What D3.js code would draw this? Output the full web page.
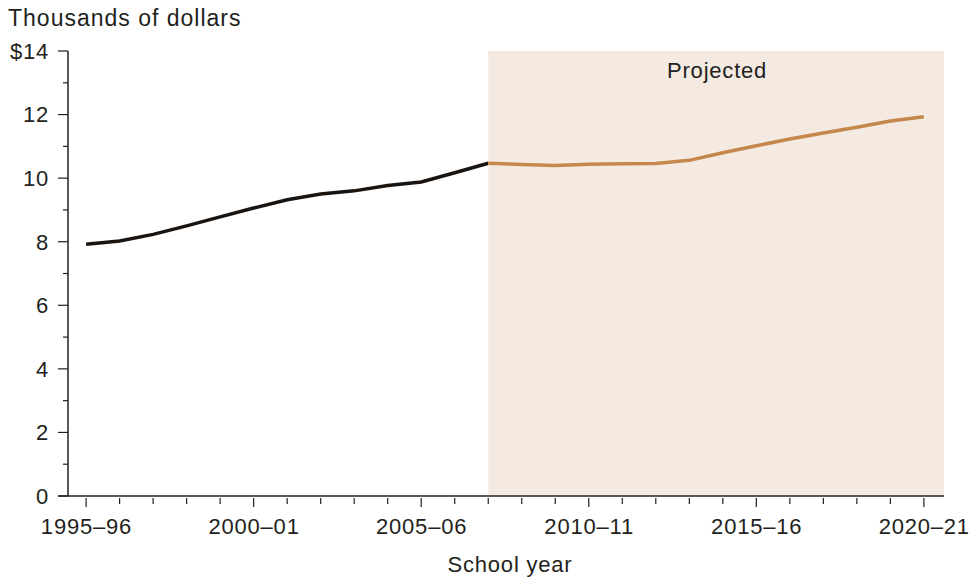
<!DOCTYPE html>
<html><head><meta charset="utf-8">
<script src="https://cdn.jsdelivr.net/npm/d3@7"></script>
<style>body{margin:0;background:#fff}svg{display:block}text{font-family:"Liberation Sans",Arial,Helvetica,sans-serif;fill:#231f20;font-size:22px;letter-spacing:0.8px}</style>
</head><body><svg id="c" width="971" height="579"></svg>
<script>
const years = ["1995–96","1996–97","1997–98","1998–99","1999–2000","2000–01","2001–02","2002–03","2003–04","2004–05","2005–06","2006–07","2007–08","2008–09","2009–10","2010–11","2011–12","2012–13","2013–14","2014–15","2015–16","2016–17","2017–18","2018–19","2019–20","2020–21"];
const actual = [7.92,8.02,8.23,8.5,8.78,9.06,9.32,9.5,9.6,9.77,9.88,10.17,10.47];
const projected = [10.47,10.43,10.4,10.44,10.45,10.46,10.56,10.8,11.02,11.23,11.42,11.6,11.8,11.93];
const projStart = 12;
const xLabels = ["1995–96","2000–01","2005–06","2010–11","2015–16","2020–21"];
const yTicks = [0,2,4,6,8,10,12,14];

const svg = d3.select("#c");
const x = d3.scaleLinear().domain([-0.54, 25.6]).range([68, 944]);
const y = d3.scaleLinear().domain([0, 14]).range([496, 51]);

svg.append("rect").attr("x", x(projStart)).attr("y", y(14)).attr("width", x(25.6)-x(projStart)).attr("height", y(0)-y(14)).attr("fill", "#f5eae1");
svg.append("text").attr("x", 667).attr("y", 78).text("Projected");

// y axis
const ya = svg.append("g");
ya.append("line").attr("x1",68).attr("x2",68).attr("y1",y(14)).attr("y2",y(0)).attr("stroke","#231f20").attr("stroke-width",1.5);
d3.range(0,15).forEach(v=>{
  const major = v%2===0;
  ya.append("line").attr("x1", major?58:63).attr("x2",68).attr("y1",y(v)).attr("y2",y(v)).attr("stroke","#231f20").attr("stroke-width",1.2);
});
yTicks.forEach(v=>{
  ya.append("text").attr("x",49).attr("y",y(v)).attr("dy","0.36em").attr("text-anchor","end").text(v===14?"$14":v);
});
svg.append("text").attr("x",8).attr("y",26).style("font-size","23px").style("letter-spacing","1px").text("Thousands of dollars");

// x axis
svg.append("line").attr("x1",58).attr("x2",944).attr("y1",y(0)).attr("y2",y(0)).attr("stroke","#231f20").attr("stroke-width",1.5);
years.forEach((yr,i)=>{
  const major = xLabels.includes(yr);
  svg.append("line").attr("x1",x(i)).attr("x2",x(i)).attr("y1",y(0)+2).attr("y2",y(0)+(major?11:8)).attr("stroke","#231f20").attr("stroke-width",1.2);
  if (major) svg.append("text").attr("x",x(i)+0.4).attr("y",534).attr("text-anchor","middle").text(yr);
});
svg.append("text").attr("x",510).attr("y",572).attr("text-anchor","middle").text("School year");

const line = d3.line().x(d=>x(d[0])).y(d=>y(d[1]));
svg.append("path").datum(actual.map((v,i)=>[i,v])).attr("d",line).attr("fill","none").attr("stroke","#1a1410").attr("stroke-width",3.5);
svg.append("path").datum(projected.map((v,i)=>[i+projStart,v])).attr("d",line).attr("fill","none").attr("stroke","#c4884c").attr("stroke-width",3.5);
</script></body></html>
